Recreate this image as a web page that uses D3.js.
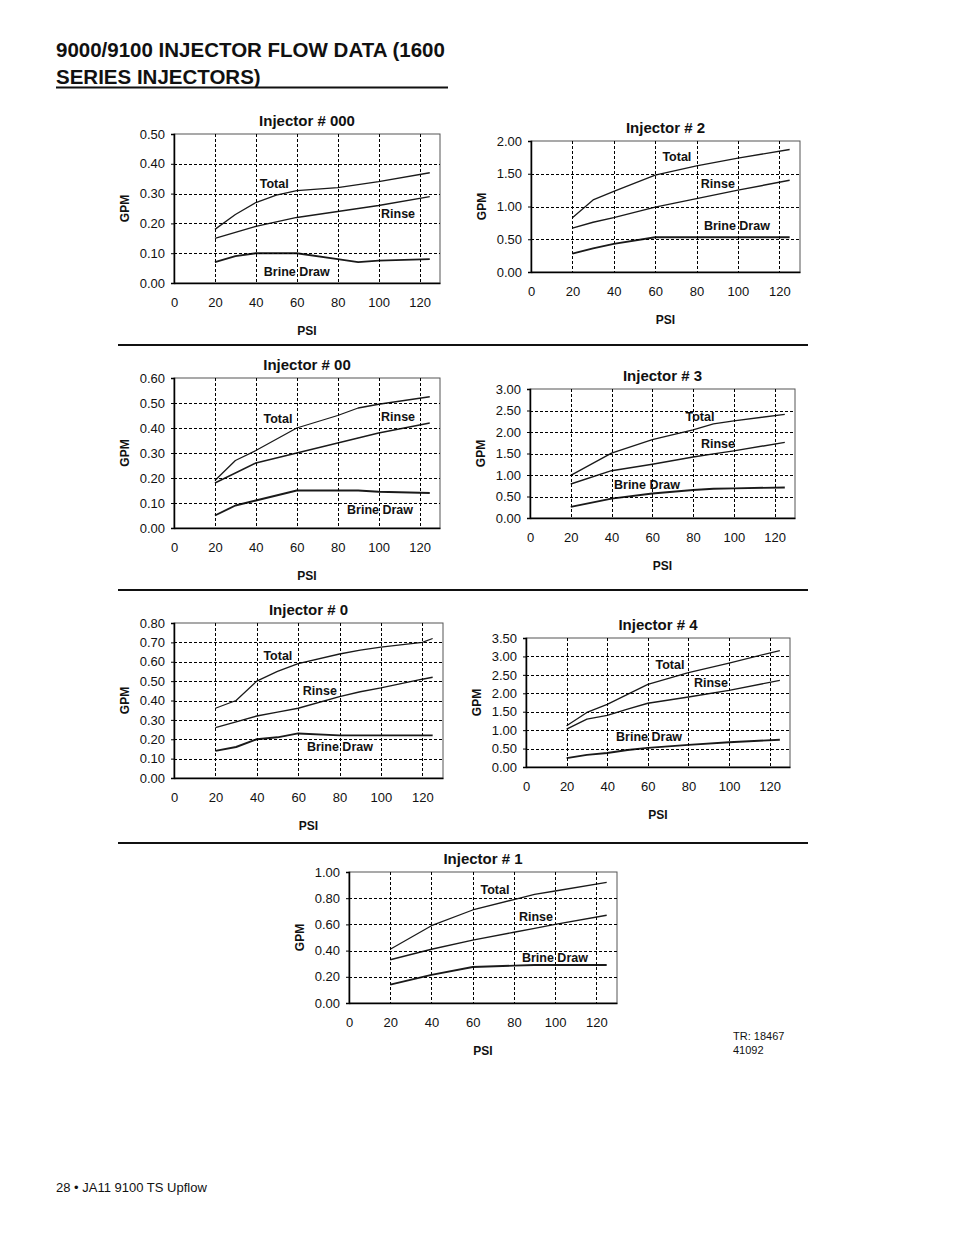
<!DOCTYPE html>
<head>
  <meta charset="utf-8">
  <style>
    body { margin: 0; background: #fff; }
    svg { display: block; font-family: 'Liberation Sans', Arial, sans-serif; }
    .head { font-size: 20.5px; font-weight: bold; fill: #111; }
    .title { font-size: 15px; font-weight: bold; fill: #111; }
    .axlab { font-size: 12px; font-weight: bold; fill: #111; }
    .tick text { font-size: 13px; fill: #111; font-family: 'Liberation Sans', Arial, sans-serif; }
    .grid { stroke: #000; stroke-width: 1; stroke-dasharray: 3,2; fill: none; }
    .serie { fill: none; stroke: #1a1a1a; stroke-linejoin: round; }
    .note { font-size: 12.5px; font-weight: bold; fill: #111; }
  </style>
</head>
<body>
<svg id="page" width="954" height="1235"></svg>
<script src="https://cdn.jsdelivr.net/npm/d3@7"></script>
<script>
  // x ticks shared by every chart
  const xTicks = [0, 20, 40, 60, 80, 100, 120];

  // Injector # 000
  const psi000 = [20, 30, 40, 50, 60, 80, 90, 100, 125];
  const total000 = [0.18, 0.23, 0.27, 0.295, 0.31, 0.32, 0.33, 0.34, 0.37];
  const rinse000 = [0.15, 0.17, 0.19, 0.205, 0.22, 0.24, 0.25, 0.26, 0.29];
  const brine000 = [0.07, 0.09, 0.10, 0.10, 0.10, 0.08, 0.07, 0.075, 0.08];
  const yTicks000 = [0, 0.1, 0.2, 0.3, 0.4, 0.5];

  // Injector # 2
  const psi2 = [20, 30, 40, 60, 80, 100, 125];
  const total2 = [0.83, 1.10, 1.23, 1.48, 1.62, 1.74, 1.87];
  const rinse2 = [0.67, 0.76, 0.83, 0.99, 1.12, 1.25, 1.40];
  const brine2 = [0.28, 0.36, 0.43, 0.53, 0.53, 0.53, 0.53];
  const yTicks2 = [0, 0.5, 1.0, 1.5, 2.0];

  // Injector # 00
  const psi00 = [20, 30, 40, 60, 80, 90, 100, 125];
  const total00 = [0.19, 0.27, 0.31, 0.40, 0.45, 0.48, 0.495, 0.525];
  const rinse00 = [0.18, 0.22, 0.26, 0.30, 0.34, 0.36, 0.38, 0.42];
  const brine00 = [0.05, 0.09, 0.11, 0.15, 0.15, 0.15, 0.145, 0.14];
  const yTicks00 = [0, 0.1, 0.2, 0.3, 0.4, 0.5, 0.6];

  // Injector # 3
  const psi3 = [20, 40, 60, 80, 90, 100, 125];
  const total3 = [0.99, 1.51, 1.82, 2.05, 2.19, 2.26, 2.41];
  const rinse3 = [0.79, 1.10, 1.25, 1.42, 1.49, 1.56, 1.76];
  const brine3 = [0.26, 0.45, 0.57, 0.65, 0.68, 0.69, 0.71];
  const yTicks3 = [0, 0.5, 1.0, 1.5, 2.0, 2.5, 3.0];

  // Injector # 0
  const psi0 = [20, 30, 40, 50, 60, 80, 90, 100, 120, 125];
  const total0 = [0.36, 0.40, 0.50, 0.55, 0.59, 0.64, 0.66, 0.675, 0.70, 0.72];
  const rinse0 = [0.26, 0.29, 0.32, 0.34, 0.36, 0.42, 0.445, 0.465, 0.51, 0.52];
  const brine0 = [0.14, 0.16, 0.20, 0.21, 0.23, 0.22, 0.22, 0.22, 0.22, 0.22];
  const yTicks0 = [0, 0.1, 0.2, 0.3, 0.4, 0.5, 0.6, 0.7, 0.8];

  // Injector # 4
  const psi4 = [20, 30, 40, 50, 60, 80, 100, 125];
  const total4 = [1.12, 1.48, 1.70, 1.97, 2.24, 2.56, 2.82, 3.16];
  const rinse4 = [1.03, 1.30, 1.40, 1.57, 1.73, 1.90, 2.08, 2.35];
  const brine4 = [0.24, 0.33, 0.38, 0.46, 0.52, 0.60, 0.67, 0.74];
  const yTicks4 = [0, 0.5, 1.0, 1.5, 2.0, 2.5, 3.0, 3.5];

  // Injector # 1
  const psi1 = [20, 40, 60, 80, 90, 100, 125];
  const total1 = [0.41, 0.59, 0.71, 0.79, 0.83, 0.855, 0.92];
  const rinse1 = [0.33, 0.41, 0.48, 0.54, 0.57, 0.60, 0.67];
  const brine1 = [0.14, 0.215, 0.275, 0.285, 0.29, 0.29, 0.29];
  const yTicks1 = [0, 0.2, 0.4, 0.6, 0.8, 1.0];

  const seriesNames = ["Total", "Rinse", "Brine Draw"];

  // where each chart sits on the page (frame edges), and label anchors in data units
  const charts = [
    { name: "000", box: [174, 440, 134, 283], psi: psi000, vals: [total000, rinse000, brine000], yt: yTicks000,
      notes: [[49, 0.33], [109.5, 0.228], [60, 0.034]] },
    { name: "2", box: [531, 800, 141, 272], psi: psi2, vals: [total2, rinse2, brine2], yt: yTicks2,
      notes: [[70.5, 1.74], [90.3, 1.34], [99.5, 0.69]] },
    { name: "00", box: [174, 440, 378, 528], psi: psi00, vals: [total00, rinse00, brine00], yt: yTicks00,
      notes: [[50.8, 0.432], [109.5, 0.44], [100.7, 0.068]] },
    { name: "3", box: [530, 795, 389, 518], psi: psi3, vals: [total3, rinse3, brine3], yt: yTicks3,
      notes: [[83.4, 2.33], [92.2, 1.70], [57.4, 0.74]] },
    { name: "0", box: [174, 443, 623, 778], psi: psi0, vals: [total0, rinse0, brine0], yt: yTicks0,
      notes: [[50.2, 0.625], [70.5, 0.444], [80.2, 0.155]] },
    { name: "4", box: [526, 790, 638, 767], psi: psi4, vals: [total4, rinse4, brine4], yt: yTicks4,
      notes: [[70.9, 2.74], [91.1, 2.25], [60.6, 0.79]] },
    { name: "1", box: [349, 617, 872, 1003], psi: psi1, vals: [total1, rinse1, brine1], yt: yTicks1,
      notes: [[70.8, 0.855], [90.7, 0.65], [99.9, 0.34]] }
  ];
  const widths = [1.3, 1.4, 1.9];

  const svg = d3.select("#page");
  svg.append("rect").attr("width", 954).attr("height", 1235).attr("fill", "#fff");

  // page header
  svg.append("text").attr("class", "head").attr("x", 56).attr("y", 57)
    .text("9000/9100 INJECTOR FLOW DATA (1600");
  svg.append("text").attr("class", "head").attr("x", 56).attr("y", 84)
    .text("SERIES INJECTORS)");
  svg.append("line").attr("x1", 56).attr("x2", 448).attr("y1", 87.5).attr("y2", 87.5)
    .attr("stroke", "#111").attr("stroke-width", 2);

  // separators between rows
  [345, 590, 843].forEach(function(yy) {
    svg.append("line").attr("x1", 118).attr("x2", 808).attr("y1", yy).attr("y2", yy)
      .attr("stroke", "#111").attr("stroke-width", 2);
  });

  function drawChart(c) {
    const [x0, x1, y0, y1] = c.box;
    const yMax = c.yt[c.yt.length - 1];
    const x = d3.scaleLinear().domain([0, 130]).range([x0, x1]);
    const y = d3.scaleLinear().domain([0, yMax]).range([y1, y0]);
    const g = svg.append("g");

    g.append("rect").attr("x", x0).attr("y", y0).attr("width", x1 - x0).attr("height", y1 - y0)
      .attr("fill", "none").attr("stroke", "#555").attr("stroke-width", 1);

    // dashed grid
    g.selectAll("line.vg").data(xTicks.slice(1)).join("line")
      .attr("class", "grid")
      .attr("x1", d => Math.round(x(d)) + 0.5).attr("x2", d => Math.round(x(d)) + 0.5)
      .attr("y1", y0).attr("y2", y1);
    g.selectAll("line.hg").data(c.yt.slice(1, -1)).join("line")
      .attr("class", "grid")
      .attr("x1", x0).attr("x2", x1)
      .attr("y1", d => Math.round(y(d)) + 0.5).attr("y2", d => Math.round(y(d)) + 0.5);

    // axes
    g.append("g").attr("transform", "translate(" + x0 + ",0)")
      .call(d3.axisLeft(y).tickValues(c.yt).tickFormat(d3.format(".2f")).tickSize(3).tickPadding(6))
      .call(s => s.select(".domain").attr("stroke", "#000").attr("stroke-width", 1.5));
    g.append("g").attr("transform", "translate(0," + y1 + ")")
      .call(d3.axisBottom(x).tickValues(xTicks).tickSize(0).tickPadding(15))
      .call(s => s.select(".domain").attr("stroke", "#000").attr("stroke-width", 1.5));

    // series
    const line = d3.line().x((d, i) => x(c.psi[i])).y(d => y(d));
    c.vals.forEach(function(v, k) {
      g.append("path").datum(v).attr("class", "serie")
        .attr("stroke-width", widths[k]).attr("d", line);
    });

    // series names, drawn under the grid like the original
    c.notes.forEach(function(p, k) {
      g.append("text").attr("class", "note")
        .attr("x", x(p[0])).attr("y", y(p[1]))
        .attr("text-anchor", "middle").attr("dominant-baseline", "middle")
        .text(seriesNames[k]);
    });
    g.selectAll("line.grid").raise();

    const cx = (x0 + x1) / 2;
    g.append("text").attr("class", "title").attr("x", cx).attr("y", y0 - 8)
      .attr("text-anchor", "middle").text("Injector # " + c.name);
    g.append("text").attr("class", "axlab").attr("x", cx).attr("y", y1 + 52)
      .attr("text-anchor", "middle").text("PSI");
    g.append("text").attr("class", "axlab")
      .attr("transform", "translate(" + (x0 - 45) + "," + ((y0 + y1) / 2) + ") rotate(-90)")
      .attr("text-anchor", "middle").text("GPM");
  }

  charts.forEach(drawChart);

  svg.append("text").attr("x", 733).attr("y", 1040).attr("font-size", 11).attr("fill", "#111")
    .text("TR: 18467");
  svg.append("text").attr("x", 733).attr("y", 1054).attr("font-size", 11).attr("fill", "#111")
    .text("41092");

  svg.append("text").attr("x", 56).attr("y", 1192).attr("font-size", 13).attr("fill", "#111")
    .text("28 \u2022 JA11 9100 TS Upflow");
</script>
</body>
